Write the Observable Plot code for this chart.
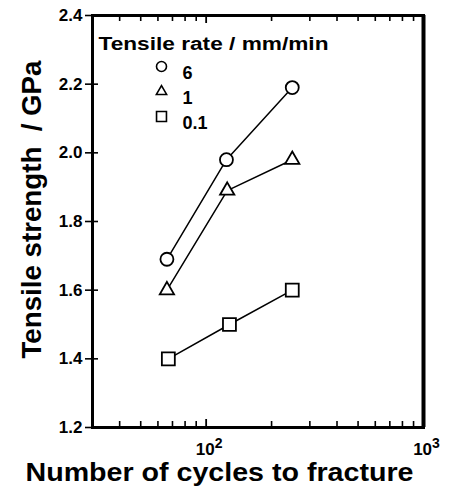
<!DOCTYPE html>
<html><head><meta charset="utf-8">
<script src="https://cdn.jsdelivr.net/npm/d3@7"></script>
<script src="https://cdn.jsdelivr.net/npm/@observablehq/plot@0.6"></script>
<style>
html,body{margin:0;padding:0;background:#fff;}
#chart svg{display:block;}
</style></head><body><div id="chart"></div>
<script>
// ---- data ----
const cycles6 = [66, 124, 249];
const strength6 = [1.69, 1.98, 2.19];
const cycles1 = [66, 125, 249];
const strength1 = [1.60, 1.89, 1.98];
const cycles01 = [67, 128, 249];
const strength01 = [1.40, 1.50, 1.60];
const seriesLabels = ["6", "1", "0.1"];
const seriesSymbols = ["circle", "triangle", "square"];
const legendTitle = "Tensile rate / mm/min";
const xLabel = "Number of cycles to fracture";
const yLabel = "Tensile strength  / GPa";
const xDomain = [30, 1000];
const yDomain = [1.2, 2.4];
const yTicks = [1.2, 1.4, 1.6, 1.8, 2.0, 2.2, 2.4];
const xMajorTicks = [100, 1000];
const xMajorBase = "10";
const xMajorExponents = ["2", "3"];
const xMinorTicks = [40, 50, 60, 70, 80, 90, 200, 300, 400, 500, 600, 700, 800, 900];

// ---- layout ----
const W = 454, H = 493, mL = 92, mR = 31, mT = 15, mB = 66;
const fW = W - mL - mR, fH = H - mT - mB;
const markerR = {circle: 6.5, triangle: 5.3, square: 7.3};
const legendR = {circle: 5, triangle: 3.8, square: 5.6};

const seriesX = [cycles6, cycles1, cycles01];
const seriesY = [strength6, strength1, strength01];
const series = seriesLabels.map((label, i) => ({
  label, symbol: seriesSymbols[i],
  points: seriesX[i].map((x, j) => ({x, y: seriesY[i][j]}))
}));

const marks = [];
// ticks
marks.push(Plot.tickX(xMinorTicks, {x: d => d, insetTop: fH - 6, strokeWidth: 1.6}));
marks.push(Plot.tickX(xMinorTicks, {x: d => d, insetBottom: fH - 6, strokeWidth: 1.6}));
marks.push(Plot.tickX([xMajorTicks[0]], {x: d => d, insetTop: fH - 8, strokeWidth: 1.8}));
marks.push(Plot.tickX([xMajorTicks[0]], {x: d => d, insetBottom: fH - 8, strokeWidth: 1.8}));
marks.push(Plot.tickY(yTicks, {y: d => d, insetRight: fW - 6, strokeWidth: 1.6}));
marks.push(Plot.axisY(yTicks, {tickSize: 7, tickPadding: 3, strokeWidth: 1.6, tickFormat: d3.format(".1f"), fontSize: 17, fontWeight: "bold", label: null}));
marks.push(Plot.axisX(xMajorTicks, {tickSize: 0, tickPadding: 15, tickFormat: d => xMajorBase + "|" + xMajorExponents[xMajorTicks.indexOf(d)], fontSize: 17, fontWeight: "bold", dx: 3, label: null, className: "xtick"}));
marks.push(Plot.frame({strokeWidth: 3}));
marks.push(Plot.ruleX([xDomain[1]], {strokeWidth: 4}));
// series
for (const s of series) {
  marks.push(Plot.line(s.points, {x: "x", y: "y", stroke: "black", strokeWidth: 1.5}));
  marks.push(Plot.dot(s.points, {x: "x", y: "y", symbol: () => s.symbol, r: markerR[s.symbol], fill: "white", stroke: "black", strokeWidth: 1.8}));
}
// legend
marks.push(Plot.text([legendTitle], {text: d => d, frameAnchor: "top-left", textAnchor: "start", dx: 6, dy: 22, fontSize: 18, fontWeight: "bold", className: "legtitle"}));
series.forEach((s, i) => {
  const dy = 51 + i * 25;
  marks.push(Plot.dot([s.label], {frameAnchor: "top-left", dx: 69, dy, symbol: () => s.symbol, r: legendR[s.symbol], fill: "white", stroke: "black", strokeWidth: 1.6}));
  marks.push(Plot.text([s.label], {text: d => d, frameAnchor: "top-left", textAnchor: "start", dx: 90, dy, fontSize: 18, fontWeight: "bold"}));
});
// axis titles
marks.push(Plot.text([yLabel], {text: d => d, frameAnchor: "left", textAnchor: "middle", rotate: -90, dx: -60, dy: -12, fontSize: 27.5, fontWeight: "bold", className: "ylab"}));
marks.push(Plot.text([xLabel], {text: d => d, frameAnchor: "bottom", textAnchor: "middle", dx: -38.5, dy: 53, fontSize: 25, fontWeight: "bold", className: "xlab"}));

const chart = Plot.plot({
  width: W, height: H,
  marginLeft: mL, marginRight: mR, marginTop: mT, marginBottom: mB,
  style: {fontFamily: "'Liberation Sans', Arial, sans-serif", background: "white", color: "black"},
  x: {type: "log", domain: xDomain},
  y: {domain: yDomain},
  marks
});
document.getElementById("chart").append(chart);

// stretch wide labels horizontally like the original typesetting
const fit = (cls, len) => d3.select(chart).selectAll(`.${cls} text`).attr("textLength", len).attr("lengthAdjust", "spacingAndGlyphs");
fit("xlab", 388);
fit("legtitle", 230);
fit("ylab", 298);
// superscript exponents on the decade labels
d3.select(chart).selectAll(".xtick text").each(function () {
  const [base, exp] = this.textContent.split("|");
  const t = d3.select(this);
  t.text(base);
  t.append("tspan").attr("dy", "-0.45em").attr("font-size", 14).text(exp);
});
</script></body></html>
